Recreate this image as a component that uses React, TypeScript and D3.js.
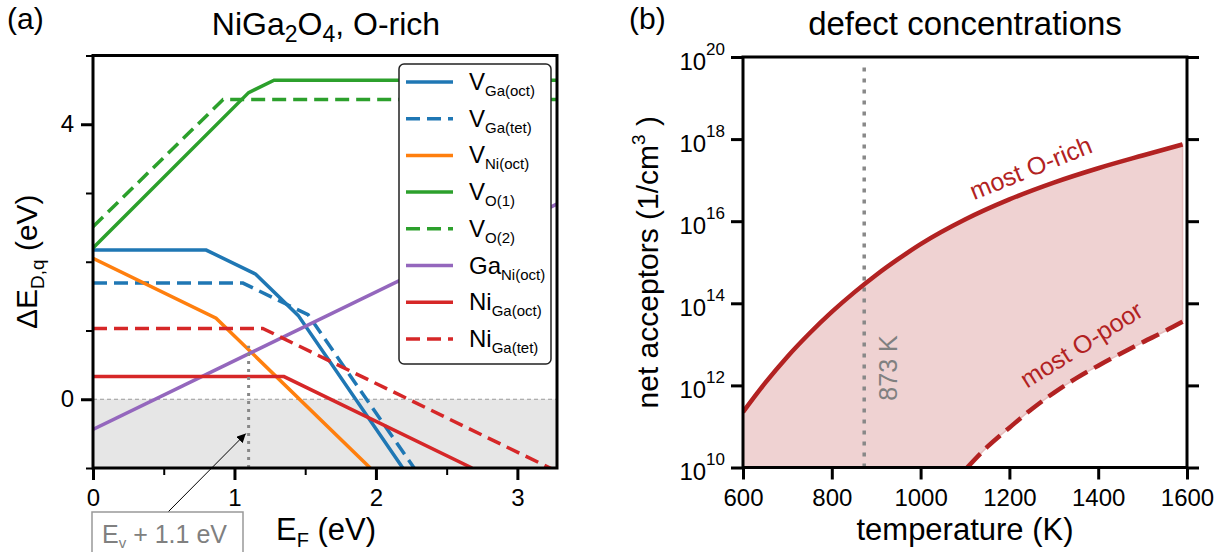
import React, { useRef, useEffect } from 'react';
import * as d3 from 'd3';

const W = 1225, H = 552;
const FONT = 'Liberation Sans, Arial, Helvetica, sans-serif';

// (a) formation energy kinks, [E_F (eV), dE (eV)]
const vGaOct = [[0, 2.17], [0.80, 2.17], [1.15, 1.82], [1.45, 1.22], [2.19, -1.0]];
const vGaTet = [[0, 1.69], [1.06, 1.69], [1.52, 1.23], [2.27, -1.0]];
const vNiOct = [[0, 2.05], [0.87, 1.18], [1.96, -1.0]];
const vO1 = [[0, 2.20], [1.10, 4.46], [1.28, 4.64], [3.3, 4.64]];
const vO2 = [[0, 2.51], [0.92, 4.36], [3.3, 4.36]];
const gaNiOct = [[0, -0.44], [3.3, 2.86]];
const niGaOct = [[0, 0.33], [1.35, 0.33], [2.68, -1.0]];
const niGaTet = [[0, 1.03], [1.20, 1.03], [3.3, -1.07]];

const defectBase = ['V', 'V', 'V', 'V', 'V', 'Ga', 'Ni', 'Ni'];
const defectSub = ['Ga(oct)', 'Ga(tet)', 'Ni(oct)', 'O(1)', 'O(2)', 'Ni(oct)', 'Ga(oct)', 'Ga(tet)'];
const defectColor = ['#1f77b4', '#1f77b4', '#ff7f0e', '#2ca02c', '#2ca02c', '#9467bd', '#d62728', '#d62728'];
const defectDashed = [false, true, false, false, true, false, false, true];
const defectPts = [vGaOct, vGaTet, vNiOct, vO1, vO2, gaNiOct, niGaOct, niGaTet];

const xTicksA = [0, 1, 2, 3];
const xMinorA = [0.5, 1.5, 2.5];
const yTicksA = [0, 4];
const yMinorA = [-1, 1, 2, 3, 5];
const fermiMark = 1.1;

// (b) net acceptors vs temperature (log10 of 1/cm^3)
const richT = [600, 650, 700, 750, 800, 850, 900, 950, 1000, 1100, 1200, 1300, 1400, 1500, 1590];
const richLog = [11.35, 12.06, 12.70, 13.27, 13.79, 14.26, 14.69, 15.08, 15.44, 16.04, 16.53, 16.94, 17.29, 17.6, 17.87];
const poorT = [1105, 1150, 1200, 1250, 1300, 1350, 1400, 1450, 1500, 1550, 1590];
const poorLog = [10.0, 10.5, 10.97, 11.42, 11.82, 12.17, 12.48, 12.77, 13.05, 13.32, 13.55];
const tempTicks = [600, 800, 1000, 1200, 1400, 1600];
const expTicks = [10, 12, 14, 16, 18, 20];
const tempMark = 873;

export default function App() {
    const ref = useRef(null);

    useEffect(() => {
        const svg = d3.select(ref.current);
        svg.selectAll('*').remove();
        svg.style('font-family', FONT);

        // ---------- panel (a) ----------
        const xA = d3.scaleLinear().domain([0, 3.28]).range([93, 557]);
        const yA = d3.scaleLinear().domain([-1, 5]).range([468, 55.5]);

        const defs = svg.append('defs');
        defs.append('clipPath').attr('id', 'clipA').append('rect')
            .attr('x', xA(0)).attr('y', yA(5)).attr('width', xA(3.28) - xA(0)).attr('height', yA(-1) - yA(5));
        defs.append('marker').attr('id', 'arrow').attr('viewBox', '0 0 10 10')
            .attr('refX', 10).attr('refY', 5).attr('markerWidth', 9).attr('markerHeight', 9)
            .attr('markerUnits', 'userSpaceOnUse').attr('orient', 'auto')
            .append('path').attr('d', 'M0,0L10,5L0,10z').attr('fill', '#000');

        const gA = svg.append('g');
        gA.append('rect').attr('x', xA(0)).attr('y', yA(0))
            .attr('width', xA(3.28) - xA(0)).attr('height', yA(-1) - yA(0)).attr('fill', '#e6e6e6');
        gA.append('line').attr('x1', xA(0)).attr('x2', xA(3.28)).attr('y1', yA(0)).attr('y2', yA(0))
            .attr('stroke', '#999').attr('stroke-width', 1).attr('stroke-dasharray', '4,3');

        const lineA = d3.line().x(d => xA(d[0])).y(d => yA(d[1]));
        defectPts.forEach((pts, i) => {
            gA.append('path').attr('d', lineA(pts)).attr('clip-path', 'url(#clipA)')
                .attr('fill', 'none').attr('stroke', defectColor[i]).attr('stroke-width', 3.5)
                .attr('stroke-dasharray', defectDashed[i] ? '14,7' : null);
        });

        gA.append('line').attr('x1', xA(fermiMark)).attr('x2', xA(fermiMark))
            .attr('y1', yA(-1)).attr('y2', yA(0.78))
            .attr('stroke', '#888').attr('stroke-width', 3).attr('stroke-dasharray', '3,5');

        // legend
        const lg = gA.append('g');
        lg.append('rect').attr('x', 399).attr('y', 64).attr('width', 152).attr('height', 300)
            .attr('rx', 5).attr('fill', '#fff').attr('stroke', '#222').attr('stroke-width', 1.5);
        defectBase.forEach((b, i) => {
            const y = 82 + i * 36.7;
            lg.append('line').attr('x1', 406).attr('x2', 453).attr('y1', y).attr('y2', y)
                .attr('stroke', defectColor[i]).attr('stroke-width', 3.5)
                .attr('stroke-dasharray', defectDashed[i] ? '14,7' : null);
            const t = lg.append('text').attr('x', 469).attr('y', y + 8).attr('font-size', 24);
            t.append('tspan').text(b);
            t.append('tspan').attr('font-size', 15).attr('dy', 6).text(defectSub[i]);
        });

        // spines + axes
        gA.append('rect').attr('x', xA(0)).attr('y', yA(5)).attr('width', xA(3.28) - xA(0))
            .attr('height', yA(-1) - yA(5)).attr('fill', 'none').attr('stroke', '#000').attr('stroke-width', 3);

        const styleAxis = (g, w) => {
            g.select('.domain').remove();
            g.selectAll('.tick line').attr('stroke', '#000').attr('stroke-width', w);
            g.selectAll('.tick text').attr('font-size', 24).attr('fill', '#000').attr('font-family', FONT);
        };
        gA.append('g').attr('transform', `translate(0,${yA(-1)})`)
            .call(d3.axisBottom(xA).tickValues(xTicksA).tickSize(12).tickPadding(9).tickFormat(d3.format('d')))
            .call(g => styleAxis(g, 3));
        gA.append('g').attr('transform', `translate(0,${yA(-1)})`)
            .call(d3.axisBottom(xA).tickValues(xMinorA).tickSize(7).tickFormat(() => ''))
            .call(g => styleAxis(g, 2));
        gA.append('g').attr('transform', `translate(${xA(0)},0)`)
            .call(d3.axisLeft(yA).tickValues(yTicksA).tickSize(12).tickPadding(7).tickFormat(d3.format('d')))
            .call(g => styleAxis(g, 3));
        gA.append('g').attr('transform', `translate(${xA(0)},0)`)
            .call(d3.axisLeft(yA).tickValues(yMinorA).tickSize(7).tickFormat(() => ''))
            .call(g => styleAxis(g, 2));

        // labels (a)
        svg.append('text').attr('x', 7).attr('y', 29).attr('font-size', 30).text('(a)');
        const tA = svg.append('text').attr('x', 326).attr('y', 35).attr('font-size', 32).attr('text-anchor', 'middle');
        tA.append('tspan').text('NiGa');
        tA.append('tspan').attr('font-size', 23).attr('dy', 7).text('2');
        tA.append('tspan').attr('dy', -7).text('O');
        tA.append('tspan').attr('font-size', 23).attr('dy', 7).text('4');
        tA.append('tspan').attr('dy', -7).text(', O-rich');

        const xl = svg.append('text').attr('x', 326).attr('y', 540).attr('font-size', 31).attr('text-anchor', 'middle');
        xl.append('tspan').text('E');
        xl.append('tspan').attr('font-size', 20).attr('dy', 7).text('F');
        xl.append('tspan').attr('dy', -7).text(' (eV)');

        const yl = svg.append('text').attr('transform', `translate(37,${(yA(5) + yA(-1)) / 2}) rotate(-90)`)
            .attr('font-size', 30).attr('text-anchor', 'middle');
        yl.append('tspan').text('ΔE');
        yl.append('tspan').attr('font-size', 19).attr('dy', 7).text('D,q');
        yl.append('tspan').attr('dy', -7).text(' (eV)');

        // annotation box
        const tip = [xA(1.08), yA(-0.5)];
        svg.append('line').attr('x1', 168).attr('y1', 512).attr('x2', tip[0]).attr('y2', tip[1])
            .attr('stroke', '#000').attr('stroke-width', 1).attr('marker-end', 'url(#arrow)');
        svg.append('rect').attr('x', 92).attr('y', 512).attr('width', 151).attr('height', 50)
            .attr('fill', '#fff').attr('stroke', '#999').attr('stroke-width', 1.5);
        const ann = svg.append('text').attr('x', 102).attr('y', 543).attr('font-size', 25).attr('fill', '#808080');
        ann.append('tspan').text('E');
        ann.append('tspan').attr('font-size', 15).attr('dy', 5).text('v');
        ann.append('tspan').attr('dy', -5).text(' + 1.1 eV');

        // ---------- panel (b) ----------
        const xB = d3.scaleLinear().domain([600, 1600]).range([743, 1187]);
        const yB = d3.scaleLog().domain([1e10, 1e20]).range([467.5, 57]);
        defs.append('clipPath').attr('id', 'clipB').append('rect')
            .attr('x', xB(600)).attr('y', yB(1e20)).attr('width', xB(1600) - xB(600)).attr('height', yB(1e10) - yB(1e20));

        const rich = richT.map((t, i) => [t, Math.pow(10, richLog[i])]);
        const poor = poorT.map((t, i) => [t, Math.pow(10, poorLog[i])]);
        const lineB = d3.line().x(d => xB(d[0])).y(d => yB(d[1])).curve(d3.curveMonotoneX);
        const gB = svg.append('g');

        // band between most O-rich and most O-poor
        const areaPath = lineB(rich) + 'L' + lineB(poor.slice().reverse()).slice(1)
            + `L${xB(600)},${yB(1e10)}Z`;
        gB.append('path').attr('d', areaPath).attr('clip-path', 'url(#clipB)')
            .attr('fill', '#efd2d2').attr('stroke', '#e6bcbc').attr('stroke-width', 1.5);

        gB.append('line').attr('x1', xB(tempMark)).attr('x2', xB(tempMark))
            .attr('y1', yB(1e10)).attr('y2', yB(Math.pow(10, 19.8)))
            .attr('stroke', '#888').attr('stroke-width', 3.5).attr('stroke-dasharray', '4,7');

        gB.append('path').attr('d', lineB(rich)).attr('clip-path', 'url(#clipB)')
            .attr('fill', 'none').attr('stroke', '#b22222').attr('stroke-width', 4.5);
        gB.append('path').attr('d', lineB(poor)).attr('clip-path', 'url(#clipB)')
            .attr('fill', 'none').attr('stroke', '#b22222').attr('stroke-width', 4.5).attr('stroke-dasharray', '19,8');

        gB.append('rect').attr('x', xB(600)).attr('y', yB(1e20)).attr('width', xB(1600) - xB(600))
            .attr('height', yB(1e10) - yB(1e20)).attr('fill', 'none').attr('stroke', '#000').attr('stroke-width', 3);

        const expVals = expTicks.map(e => Math.pow(10, e));
        gB.append('g').attr('transform', `translate(0,${yB(1e10)})`)
            .call(d3.axisBottom(xB).tickValues(tempTicks).tickSize(12).tickPadding(9).tickFormat(d3.format('d')))
            .call(g => styleAxis(g, 3));
        gB.append('g').attr('transform', `translate(${xB(1600)},0)`)
            .call(d3.axisRight(yB).tickValues(expVals).tickSize(12).tickFormat(() => ''))
            .call(g => styleAxis(g, 3));
        gB.append('g').attr('transform', `translate(${xB(600)},0)`)
            .call(d3.axisLeft(yB).tickValues(expVals).tickSize(12).tickPadding(6).tickFormat(() => ''))
            .call(g => styleAxis(g, 3))
            .call(g => g.selectAll('.tick text').each(function (d) {
                const t = d3.select(this).attr('dy', null).attr('y', 12);
                t.append('tspan').text('10');
                t.append('tspan').attr('font-size', 17).attr('dy', -15).text(String(Math.round(Math.log10(d))));
            }));

        svg.append('text').attr('x', 629).attr('y', 29).attr('font-size', 30).text('(b)');
        svg.append('text').attr('x', 965).attr('y', 35).attr('font-size', 33).attr('text-anchor', 'middle')
            .text('defect concentrations');
        svg.append('text').attr('x', 965).attr('y', 540).attr('font-size', 31).attr('text-anchor', 'middle')
            .text('temperature (K)');
        const ylb = svg.append('text').attr('transform', `translate(658,${(yB(1e10) + yB(1e20)) / 2}) rotate(-90)`)
            .attr('font-size', 30).attr('text-anchor', 'middle');
        ylb.append('tspan').text('net acceptors (1/cm');
        ylb.append('tspan').attr('font-size', 19).attr('dy', -13).text('3');
        ylb.append('tspan').attr('dy', 13).text(' )');

        svg.append('text').attr('transform', `translate(897,368) rotate(-90)`).attr('font-size', 25)
            .attr('text-anchor', 'middle').attr('fill', '#808080').text('873 K');
        svg.append('text').attr('transform', `translate(1034,176) rotate(-22)`).attr('font-size', 25)
            .attr('text-anchor', 'middle').attr('fill', '#b22222').text('most O-rich');
        svg.append('text').attr('transform', `translate(1086,352) rotate(-32)`).attr('font-size', 25)
            .attr('text-anchor', 'middle').attr('fill', '#b22222').text('most O-poor');
    }, []);

    return (
        <div style={{ position: 'absolute', left: 0, top: 0 }}>
            <svg ref={ref} width={W} height={H} style={{ display: 'block', background: '#fff' }} />
        </div>
    );
}
